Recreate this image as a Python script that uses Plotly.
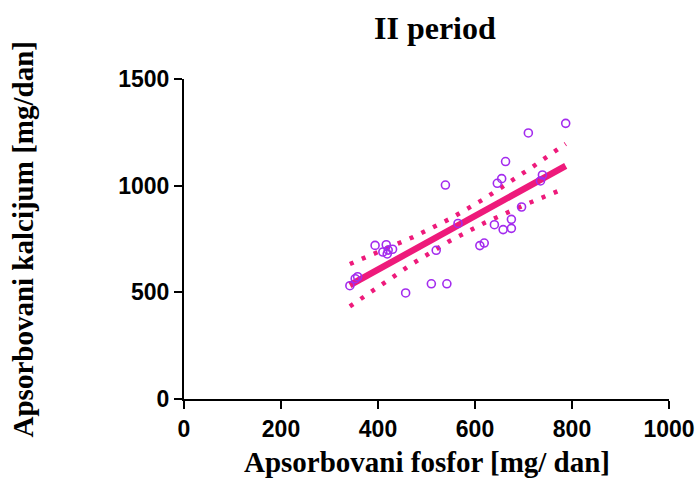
import numpy as np
import plotly.graph_objects as go

# Absorbed phosphorus (x) and calcium (y), mg/day
x_fosfor = [710, 663, 655, 646, 539, 696, 675, 640, 658, 675, 565, 619, 610, 520, 394,
            417, 410, 421, 430, 419, 358, 353, 342, 510, 542, 457, 787, 739, 735]
y_kalcij = [1247, 1113, 1033, 1011, 1003, 900, 842, 817, 794, 800, 823, 731, 719, 697, 720,
            723, 689, 698, 702, 680, 573, 564, 531, 540, 540, 497, 1292, 1050, 1022]

x_ticks = [0, 200, 400, 600, 800, 1000]
y_ticks = [0, 500, 1000, 1500]

title_text = "II period"
x_title = "Apsorbovani fosfor [mg/ dan]"
y_title = "Apsorbovani kalcijum [mg/dan]"

# Linear regression with 95% confidence band
x = np.array(x_fosfor, dtype=float)
y = np.array(y_kalcij, dtype=float)
n = len(x)
slope, intercept = np.polyfit(x, y, 1)
resid = y - (slope * x + intercept)
s = np.sqrt(np.sum(resid ** 2) / (n - 2))
sxx = np.sum((x - x.mean()) ** 2)
t_val = 2.052  # t(0.975, df=27)
xf = np.linspace(x.min(), x.max(), 100)
yf = slope * xf + intercept
half = t_val * s * np.sqrt(1.0 / n + (xf - x.mean()) ** 2 / sxx)

PINK = "#EE1A7B"
PURPLE = "#A32BEE"

fig = go.Figure()
fig.add_trace(go.Scatter(x=xf, y=yf + half, mode="lines",
                         line=dict(color=PINK, width=4.5, dash="4px,9px"), hoverinfo="skip"))
fig.add_trace(go.Scatter(x=xf, y=yf - half, mode="lines",
                         line=dict(color=PINK, width=4.5, dash="4px,9px"), hoverinfo="skip"))
fig.add_trace(go.Scatter(x=xf, y=yf, mode="lines",
                         line=dict(color=PINK, width=6.5)))
fig.add_trace(go.Scatter(x=x_fosfor, y=y_kalcij, mode="markers",
                         marker=dict(symbol="circle-open", size=8, color=PURPLE,
                                     line=dict(width=1.6, color=PURPLE))))

tickfont = dict(family="Liberation Sans, Arial", size=23, color="black", weight="bold")
serif = "Liberation Serif, Times New Roman, serif"

fig.update_layout(
    width=697, height=479,
    margin=dict(l=184, r=28, t=79, b=80),
    plot_bgcolor="white", paper_bgcolor="white",
    showlegend=False,
    xaxis=dict(range=[0, 1000], tickvals=x_ticks, showgrid=False, zeroline=False,
               showline=True, linecolor="black", linewidth=2.2, automargin=False,
               ticks="outside", ticklen=8, tickwidth=2.2, tickcolor="black",
               tickfont=tickfont, ticklabeloverflow="allow"),
    yaxis=dict(range=[0, 1500], tickvals=y_ticks, showgrid=False, zeroline=False,
               showline=True, linecolor="black", linewidth=2.2, automargin=False,
               ticks="outside", ticklen=8, tickwidth=2.2, tickcolor="black",
               tickfont=tickfont),
    annotations=[
        dict(text=title_text, xref="paper", yref="paper", x=0.517, y=1.16,
             xanchor="center", yanchor="middle", showarrow=False,
             font=dict(family=serif, size=32, color="black", weight="bold")),
        dict(text=x_title, xref="paper", yref="paper", x=0.5, y=-0.197,
             xanchor="center", yanchor="middle", showarrow=False,
             font=dict(family=serif, size=29, color="black", weight="bold")),
        dict(text=y_title, xref="paper", yref="paper", x=-0.331, y=0.5,
             xanchor="center", yanchor="middle", showarrow=False, textangle=-90,
             font=dict(family=serif, size=29, color="black", weight="bold")),
    ],
)

fig.write_html("out.html",
               config={"responsive": False, "displayModeBar": False},
               post_script=("document.body.style.margin='0';"
                            "document.body.style.overflow='hidden';"
                            "Plotly.relayout(document.getElementById('{plot_id}'),"
                            "{width: 697, height: 479});"))
